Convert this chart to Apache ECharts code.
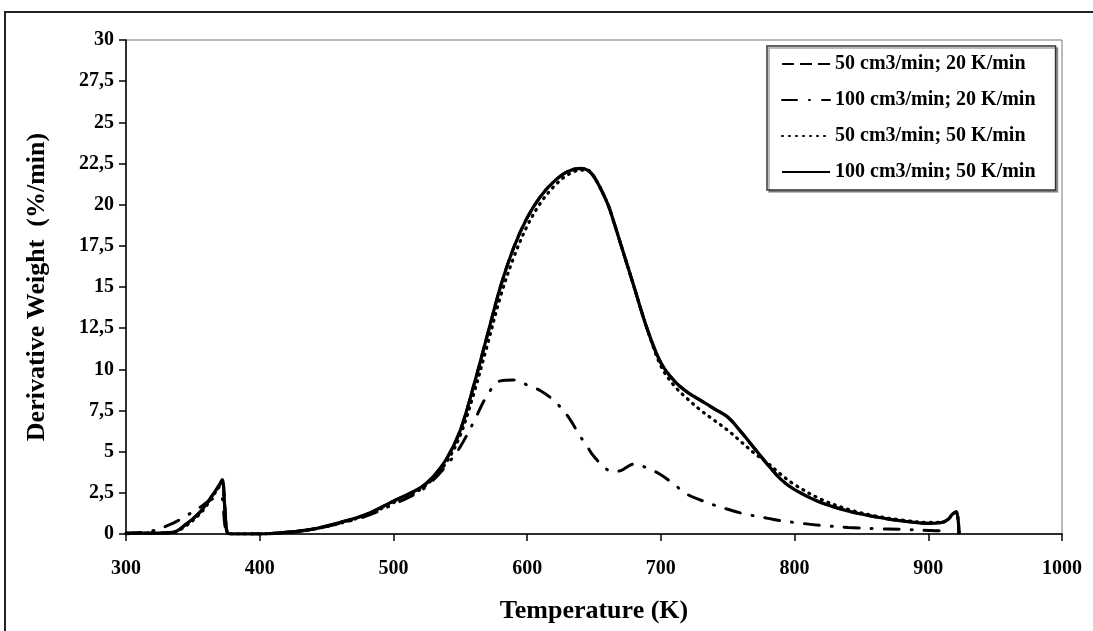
<!DOCTYPE html>
<html>
<head>
<meta charset="utf-8">
<title>DTG curves</title>
<script src="https://cdn.jsdelivr.net/npm/echarts@6/dist/echarts.min.js"></script>
<style>
  html, body { margin: 0; padding: 0; background: #fff; }
  #chart { width: 1093px; height: 631px; }
</style>
</head>
<body>
<div id="chart"></div>
<script>
// Temperature grid (K) shared by all four runs
const temperature = [300, 320, 335, 345, 355, 360, 365, 370, 372, 374, 376, 380, 400, 420, 440, 460, 480, 500, 520, 530, 540, 550, 560, 570, 580, 590, 600, 610, 620, 630, 640, 645, 650, 660, 665, 670, 680, 690, 700, 710, 720, 730, 740, 750, 760, 770, 780, 790, 800, 820, 840, 860, 880, 900, 910, 915, 918, 921, 923];

// Derivative weight (%/min) for each flow rate / heating rate
const dtg50_20 = [0.05, 0.05, 0.1, 0.6, 1.3, 1.8, 2.4, 3.0, 3.3, 1.5, 0.05, 0, 0, 0.1, 0.3, 0.7, 1.2, 2.0, 2.8, 3.5, 4.6, 6.3, 9.0, 12.0, 15.0, 17.4, 19.2, 20.5, 21.4, 22.0, 22.2, 22.1, 21.7, 20.1, 18.9, 17.6, 15.0, 12.4, 10.4, 9.3, 8.6, 8.1, 7.6, 7.1, 6.2, 5.2, 4.2, 3.3, 2.7, 1.9, 1.4, 1.05, 0.8, 0.65, 0.7, 0.9, 1.2, 1.35, 0];
const dtg100_20 = [0, 0.2, 0.65, 1.1, 1.6, 1.9, 2.15, 2.3, 2.2, 0.5, 0, 0, 0, 0.1, 0.3, 0.65, 1.1, 1.8, 2.6, 3.3, 4.2, 5.3, 6.8, 8.4, 9.3, 9.35, 9.05, 8.7, 8.1, 7.2, 5.9, 5.3, 4.7, 3.9, 3.8, 3.85, 4.25, 4.0, 3.6, 3.0, 2.4, 2.05, 1.75, 1.5, 1.27, 1.1, 0.95, 0.8, 0.7, 0.52, 0.4, 0.33, 0.28, 0.22, 0.2, 0.2, null, null, null];
const dtg50_50 = [0.05, 0.05, 0.1, 0.5, 1.2, 1.7, 2.3, 2.9, 3.2, 1.5, 0.05, 0, 0, 0.1, 0.3, 0.65, 1.15, 1.9, 2.7, 3.4, 4.4, 6.0, 8.5, 11.4, 14.4, 16.8, 18.7, 20.1, 21.1, 21.8, 22.1, 22.1, 21.7, 20.1, 18.9, 17.6, 15.0, 12.4, 10.2, 9.0, 8.2, 7.5, 6.9, 6.3, 5.6, 4.9, 4.3, 3.6, 3.0, 2.1, 1.5, 1.1, 0.85, 0.7, 0.7, 0.9, 1.2, 1.3, 0];
const dtg100_50 = [0.05, 0.05, 0.1, 0.6, 1.3, 1.8, 2.4, 3.0, 3.3, 1.5, 0.05, 0, 0, 0.1, 0.3, 0.7, 1.2, 2.0, 2.8, 3.5, 4.6, 6.3, 9.0, 12.0, 15.0, 17.4, 19.2, 20.5, 21.4, 22.0, 22.2, 22.1, 21.7, 20.1, 18.9, 17.6, 15.0, 12.4, 10.4, 9.3, 8.6, 8.1, 7.6, 7.1, 6.2, 5.2, 4.2, 3.3, 2.7, 1.9, 1.4, 1.05, 0.8, 0.65, 0.7, 0.9, 1.2, 1.35, 0];

const seriesNames = ['50 cm3/min; 20 K/min', '100 cm3/min; 20 K/min', '50 cm3/min; 50 K/min', '100 cm3/min; 50 K/min'];

const serif = "'Liberation Serif', 'Times New Roman', serif";

function pairs(values) {
  return temperature.map((t, i) => [t, values[i]]);
}

function lineSeries(name, values, lineStyle, z) {
  return {
    name: name,
    type: 'line',
    data: pairs(values),
    showSymbol: false,
    symbol: 'none',
    smooth: 0.35,
    connectNulls: false,
    lineStyle: Object.assign({ color: '#000' }, lineStyle),
    itemStyle: { color: '#000' },
    z: z
  };
}

const chart = echarts.init(document.getElementById('chart'), null, { renderer: 'canvas' });

chart.setOption({
  backgroundColor: '#fff',
  animation: false,
  textStyle: { fontFamily: serif, color: '#000' },
  graphic: [{
    type: 'rect',
    shape: { x: 5, y: 12, width: 1120, height: 660 },
    style: { fill: 'none', stroke: '#222', lineWidth: 2 },
    silent: true,
    z: -1
  }],
  grid: {
    left: 126, right: 31, top: 40, bottom: 97,
    show: true, borderColor: '#777', borderWidth: 1, backgroundColor: '#fff'
  },
  legend: {
    orient: 'vertical',
    left: 767, top: 46,
    padding: [8, 20, 8, 14],
    itemWidth: 48, itemHeight: 18, itemGap: 16,
    backgroundColor: '#fff',
    borderColor: '#333', borderWidth: 1.5,
    shadowColor: 'rgba(0,0,0,0.35)', shadowOffsetX: 2, shadowOffsetY: 2, shadowBlur: 0,
    itemStyle: { opacity: 0 },
    textStyle: { fontFamily: serif, fontWeight: 'bold', fontSize: 20, color: '#000' },
    data: seriesNames
  },
  xAxis: {
    type: 'value',
    min: 300, max: 1000, interval: 100,
    name: 'Temperature (K)',
    nameLocation: 'middle', nameGap: 64,
    nameTextStyle: { fontFamily: serif, fontWeight: 'bold', fontSize: 26, color: '#000' },
    axisLine: { lineStyle: { color: '#000', width: 1.5 } },
    axisTick: { inside: false, length: 7, lineStyle: { color: '#000', width: 1.5 } },
    axisLabel: {
      margin: 25, fontFamily: serif, fontWeight: 'bold', fontSize: 20, color: '#000',
      formatter: v => String(v)
    },
    splitLine: { show: false }
  },
  yAxis: {
    type: 'value',
    min: 0, max: 30, interval: 2.5,
    name: 'Derivative Weight  (%/min)',
    nameLocation: 'middle', nameGap: 76,
    nameTextStyle: { fontFamily: serif, fontWeight: 'bold', fontSize: 26, color: '#000' },
    axisLine: { show: true, lineStyle: { color: '#000', width: 1.5 } },
    axisTick: { show: true, inside: false, length: 7, lineStyle: { color: '#000', width: 1.5 } },
    axisLabel: {
      margin: 12, fontFamily: serif, fontWeight: 'bold', fontSize: 20, color: '#000',
      formatter: v => String(v).replace('.', ',')
    },
    splitLine: { show: false }
  },
  series: [
    lineSeries(seriesNames[0], dtg50_20, { width: 3, type: [12, 6] }, 2),
    lineSeries(seriesNames[1], dtg100_20, { width: 3, type: [15, 12, 1, 12], cap: 'round' }, 3),
    lineSeries(seriesNames[2], dtg50_50, { width: 3.2, type: [1, 6], cap: 'round' }, 4),
    lineSeries(seriesNames[3], dtg100_50, { width: 3.2, type: 'solid' }, 5)
  ]
});
</script>
</body>
</html>
